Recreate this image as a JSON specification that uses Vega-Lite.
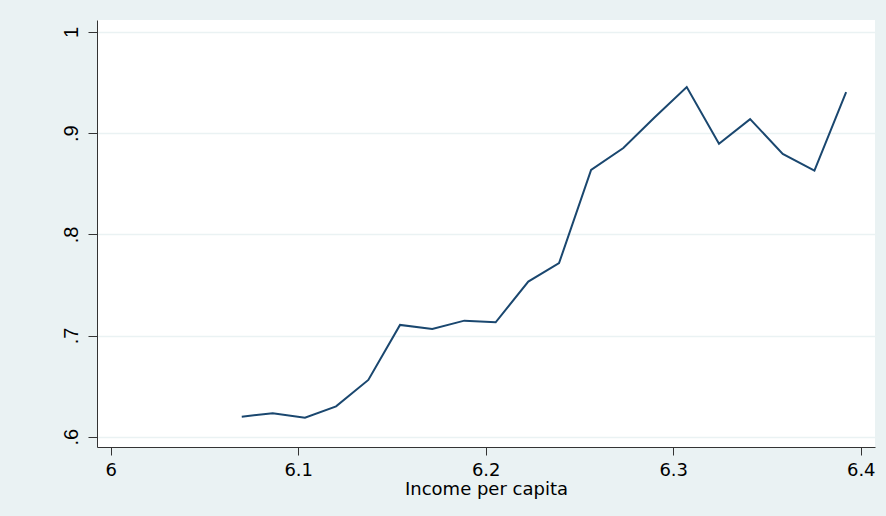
{
  "$schema": "https://vega.github.io/schema/vega-lite/v6.json",
  "autosize": "none",
  "width": 778,
  "height": 427,
  "padding": {"left": 97, "top": 20, "right": 11, "bottom": 69},
  "background": "#EAF2F3",
  "config": {
    "view": {"fill": "white", "stroke": null},
    "font": "Liberation Sans",
    "axis": {
      "domainColor": "#333333",
      "domainWidth": 1,
      "tickColor": "#333333",
      "tickWidth": 1,
      "labelColor": "#000000",
      "titleColor": "#000000",
      "titleFontWeight": "normal"
    }
  },
  "data": {
    "values": [
      {"income": 6.0699, "share": 0.6198},
      {"income": 6.0864, "share": 0.6231},
      {"income": 6.1036, "share": 0.6188},
      {"income": 6.1202, "share": 0.6300},
      {"income": 6.1374, "share": 0.6561},
      {"income": 6.1543, "share": 0.7105},
      {"income": 6.1715, "share": 0.7065},
      {"income": 6.1886, "share": 0.7147},
      {"income": 6.2053, "share": 0.7131},
      {"income": 6.2227, "share": 0.7533},
      {"income": 6.2391, "share": 0.7715},
      {"income": 6.2562, "share": 0.8638},
      {"income": 6.2734, "share": 0.8853},
      {"income": 6.2900, "share": 0.9155},
      {"income": 6.3072, "share": 0.9456},
      {"income": 6.3244, "share": 0.8895},
      {"income": 6.3410, "share": 0.9139},
      {"income": 6.3584, "share": 0.8796},
      {"income": 6.3753, "share": 0.8631},
      {"income": 6.3922, "share": 0.9407}
    ]
  },
  "mark": {"type": "line", "color": "#1A476F", "strokeWidth": 2},
  "encoding": {
    "x": {
      "field": "income",
      "type": "quantitative",
      "scale": {"domain": [5.9927, 6.4076], "nice": false, "zero": false},
      "axis": {
        "title": "Income per capita",
        "values": [6, 6.1, 6.2, 6.3, 6.4],
        "format": "~g",
        "grid": false,
        "tickSize": 8,
        "labelFont": "DejaVu Sans",
        "labelFontSize": 18,
        "labelPadding": 6,
        "titleFont": "DejaVu Sans",
        "titleFontSize": 18,
        "titlePadding": 1
      }
    },
    "y": {
      "field": "share",
      "type": "quantitative",
      "scale": {"domain": [0.5898, 1.0119], "nice": false, "zero": false},
      "axis": {
        "title": null,
        "values": [0.6, 0.7, 0.8, 0.9, 1],
        "labelExpr": "datum.value >= 1 ? '1' : substring(format(datum.value, '.1f'), 1)",
        "grid": true,
        "gridColor": "#EAF2F3",
        "gridWidth": 1.5,
        "tickSize": 9,
        "labelAngle": -90,
        "labelAlign": "center",
        "labelBaseline": "alphabetic",
        "labelFontSize": 20,
        "labelPadding": 11
      }
    }
  }
}
